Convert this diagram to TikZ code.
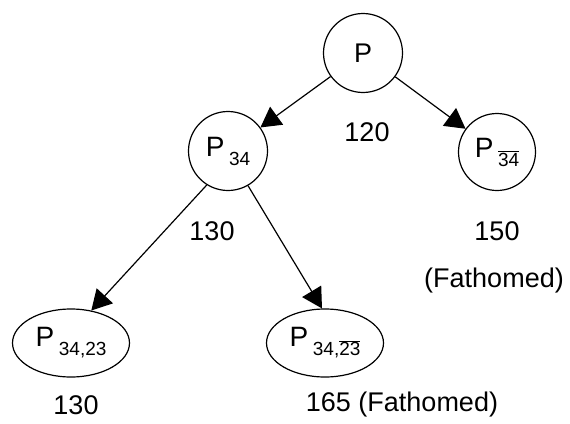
\documentclass[tikz,border=0pt]{standalone}
\usepackage{fontspec}
\setmainfont{Liberation Sans}
\usetikzlibrary{arrows.meta,shapes.geometric}
\newcommand\ovl[1]{\ensuremath{\overline{\mbox{#1}}}}
\newcommand\subtxt[1]{\raisebox{-9pt}{\fontsize{19}{19}\selectfont #1}}
\begin{document}
\begin{tikzpicture}[x=1pt,y=-1pt,
  circ/.style={draw,circle,line width=1.2pt,inner sep=0pt,minimum size=79pt,font=\fontsize{28}{28}\selectfont},
  ell/.style={draw,ellipse,line width=1.2pt,inner sep=0pt,minimum width=117pt,minimum height=68pt,font=\fontsize{28}{28}\selectfont},
  lab/.style={font=\fontsize{27}{27}\selectfont,inner sep=0pt},
  conn/.style={line width=1.2pt,-{Triangle[length=20pt,width=22pt]}}]
\useasboundingbox (0,0) rectangle (570,423);
\node[circ,font=\fontsize{27}{27}\selectfont] (p) at (363,53) {P};
\node[circ] (p34) at (228,151) {P\,\subtxt{34}};
\node[circ,minimum size=77pt] (p34n) at (497,152) {P\,\subtxt{\ovl{34}}};
\node[ell] (pa) at (71,343) {P\,\subtxt{34,23}};
\node[ell] (pb) at (325,343) {P\,\subtxt{34,\ovl{23}}};
\draw[conn] (p) -- (p34);
\draw[conn] (p) -- (p34n);
\draw[conn] (p34.-122) -- (pa.58);
\draw[conn] (p34.-60) -- (pb.95);
\node[lab] (l120) at (367,132) {120};
\node[lab] (l130a) at (212,231) {130};
\node[lab] (l150) at (497,231) {150};
\node[lab] (lf1) at (494,281) {(Fathomed)};
\node[lab] (l130b) at (76,405) {130};
\node[lab] (l165) at (402,405) {165 (Fathomed)};
\end{tikzpicture}
\end{document}
